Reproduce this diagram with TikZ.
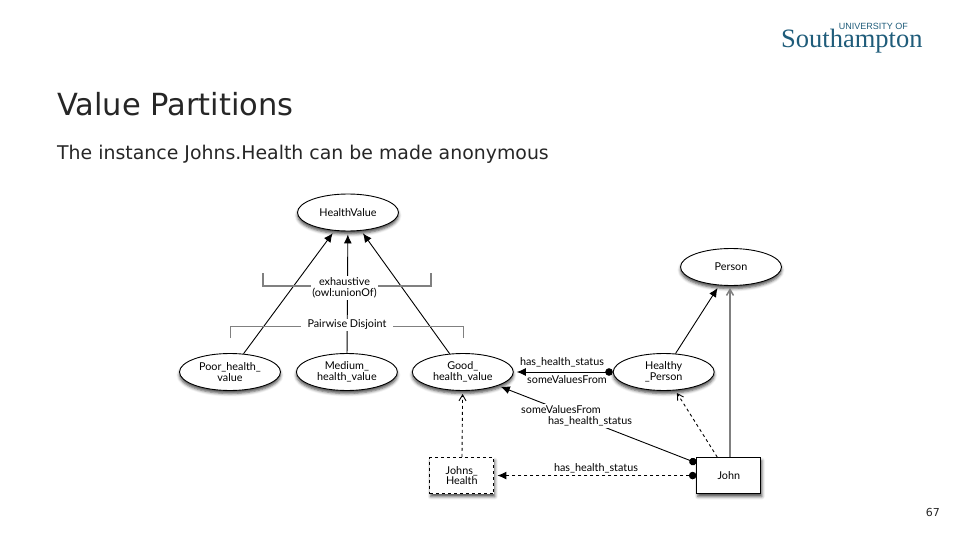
\documentclass[tikz,border=0pt]{standalone}
\usepackage{fontspec}
\setmainfont{DejaVu Sans}
\newfontfamily\diagramfont{Lato}
\newfontfamily\logoserif{Liberation Serif}
\newfontfamily\logosans{Liberation Sans}
\usetikzlibrary{arrows.meta,positioning,shapes.geometric,shadows.blur}
\definecolor{logoteal}{HTML}{1F5C7A}
\definecolor{slidetext}{HTML}{262626}
\begin{document}
\begin{tikzpicture}[x=1pt, y=-1pt, node distance=15pt, >=Latex, every node/.style={font=\diagramfont\fontsize{10.8}{10.5}\selectfont, align=center}, classnode/.style={draw, line width=0.9pt, ellipse, fill=white, minimum width=101pt, minimum height=37pt, inner sep=0pt, blur shadow={shadow xshift=0pt, shadow yshift=-3pt, shadow blur radius=3pt, shadow opacity=70}}, instnode/.style={draw, line width=0.9pt, fill=white, minimum width=64pt, minimum height=36pt, inner sep=0pt, blur shadow={shadow xshift=1pt, shadow yshift=-3pt, shadow blur radius=3pt, shadow opacity=70}}, lbl/.style={fill=white, inner xsep=1pt, inner ysep=1.5pt}, subarrow/.style={-{Latex[length=9pt,width=8pt]}, line width=0.9pt, shorten >=3pt}, dotarrow/.style={{Circle[length=7.5pt]}-{Latex[length=9pt,width=8pt]}, line width=0.9pt, shorten >=3pt}, typearrow/.style={-{Straight Barb[length=6pt,width=7pt]}, dashed, line width=0.9pt, shorten >=3pt}, brace/.style={draw=gray}]
\useasboundingbox (0,0) rectangle (960,540);
% heading and footer
\node[anchor=base west, inner sep=0pt, text=slidetext, font=\rmfamily\fontsize{30.5}{34}\selectfont] (title) at (57,116) {Value Partitions};
\node[anchor=base west, inner sep=0pt, text=slidetext, font=\rmfamily\fontsize{18.9}{22}\selectfont] (subtitle) at (57,160) {The instance Johns.Health can be made anonymous};
\node[anchor=base east, inner sep=0pt, text=slidetext, font=\rmfamily\fontsize{11}{13}\selectfont] (pageno) at (940,516) {67};
\node[anchor=base west, inner sep=0pt, text=logoteal, font=\logoserif\fontsize{26.5}{30}\selectfont] (logomain) at (781,48) {Southampton};
\node[anchor=base east, inner sep=0pt, text=logoteal, font=\logosans\fontsize{9}{10}\selectfont] (logotop) at (908,29.5) {UNIVERSITY OF};
% classes
\node[classnode] (poorvalue) at (230,372) {Poor\_health\_\\value};
\node[classnode, right=of poorvalue] (mediumvalue) {Medium\_\\health\_value};
\node[classnode, right=14pt of mediumvalue] (goodvalue) {Good\_\\health\_value};
\node[classnode, right=99pt of goodvalue] (healthyperson) {Healthy\\\_Person};
\node[classnode] (healthvalue) at (348,212.5) {HealthValue};
\node[classnode] (person) at (731,267) {Person};
% individuals
\node[instnode, dashed, line width=1.2pt, below=66pt of goodvalue, xshift=-1pt] (johnshealth) {Johns\_\\Health};
\node[instnode, right=202pt of johnshealth] (john) {John};
\coordinate (personfoot) at (730,288);
% subclass arrows
\draw[subarrow] (poorvalue) -- (healthvalue);
\draw[subarrow] (mediumvalue) -- (healthvalue);
\draw[subarrow] (goodvalue) -- (healthvalue);
\draw[subarrow] (healthyperson) -- (person);
\draw[-{Straight Barb[length=6pt,width=7pt]}, line width=1.5pt, gray] (john.north -| personfoot) -- (personfoot);
% restrictions
\draw[dotarrow] (healthyperson) -- (goodvalue);
\draw[dotarrow] (john) -- (goodvalue);
\draw[dotarrow, dashed] (john) -- (johnshealth);
% instance of
\draw[typearrow] (johnshealth) -- (goodvalue);
\draw[typearrow] (john) -- (healthyperson);
% partition labels
\node[lbl] (exhaustive) at (344.5,288) {exhaustive\\(owl:unionOf)};
\node[lbl, inner xsep=6pt] (disjoint) at (347,325) {Pairwise Disjoint};
\coordinate (exla) at (263,273);
\coordinate (exlb) at (263,286);
\coordinate (exra) at (431,273);
\coordinate (exrb) at (431,286);
\coordinate (disla) at (230,338);
\coordinate (dislb) at (230,326);
\coordinate (disra) at (463,338);
\coordinate (disrb) at (463,326);
\draw[brace, line width=1.4pt] (exla) -- (exlb) -- (exlb -| exhaustive.west);
\draw[brace, line width=1.4pt] (exra) -- (exrb) -- (exrb -| exhaustive.east);
\draw[brace] (disla) -- (dislb) -- (dislb -| disjoint.west);
\draw[brace] (disra) -- (disrb) -- (disrb -| disjoint.east);
% edge labels
\node[inner sep=0pt] (statusa) at (562,362) {has\_health\_status};
\node[inner sep=0pt] (valuesa) at (567,380) {someValuesFrom};
\node[lbl] (valuesb) at (561,410) {someValuesFrom};
\node[lbl] (statusb) at (590,421.5) {has\_health\_status};
\node[inner sep=0pt] (statusc) at (596,468) {has\_health\_status};
\end{tikzpicture}
\end{document}
